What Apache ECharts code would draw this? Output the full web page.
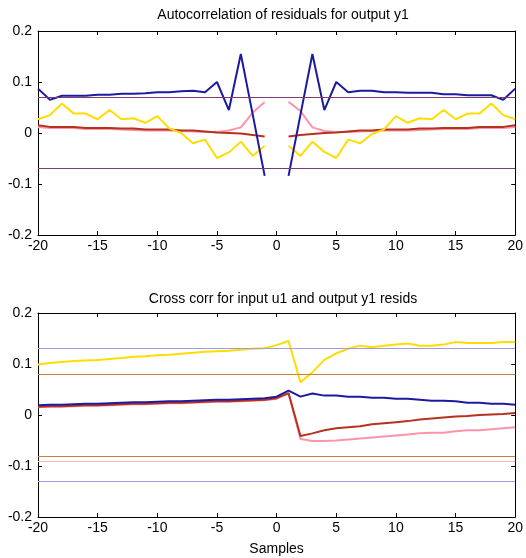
<!DOCTYPE html>
<html>
<head>
<meta charset="utf-8">
<script src="https://cdn.jsdelivr.net/npm/echarts@6/dist/echarts.min.js"></script>
<style>
  html, body { margin: 0; padding: 0; background: #fff; }
  #chart { width: 526px; height: 558px; }
</style>
</head>
<body>
<div id="chart"></div>
<script>
// lags shown on both plots
const lags = [-20,-19,-18,-17,-16,-15,-14,-13,-12,-11,-10,-9,-8,-7,-6,-5,-4,-3,-2,-1,0,
  1,2,3,4,5,6,7,8,9,10,11,12,13,14,15,16,17,18,19,20]
const xTicks = [-20, -15, -10, -5, 0, 5, 10, 15, 20]
const yTicks = [-0.2, -0.1, 0, 0.1, 0.2]

// autocorrelation of residuals (lag 0 left out)
const acBlue = [0.087,0.065,0.073,0.073,0.073,0.075,0.075,0.077,0.077,0.078,0.080,0.080,0.082,0.083,0.080,0.100,0.045,0.155,0.036,-0.084,null,
  -0.084,0.036,0.155,0.045,0.100,0.080,0.083,0.083,0.080,0.080,0.079,0.079,0.079,0.076,0.076,0.074,0.074,0.074,0.065,0.087]
const acYellow = [0.027,0.035,0.058,0.038,0.038,0.027,0.045,0.027,0.029,0.020,0.033,0.009,0.000,-0.020,-0.013,-0.049,-0.038,-0.017,-0.045,-0.025,null,
  -0.025,-0.045,-0.017,-0.037,-0.049,-0.013,-0.020,-0.002,0.007,0.033,0.020,0.029,0.027,0.045,0.027,0.038,0.038,0.058,0.035,0.027]
const acRed = [0.015,0.012,0.012,0.012,0.010,0.010,0.010,0.009,0.009,0.007,0.007,0.007,0.005,0.005,0.003,0.001,0.000,-0.001,-0.004,-0.007,null,
  -0.007,-0.004,-0.002,0.000,0.001,0.003,0.005,0.005,0.007,0.007,0.007,0.009,0.009,0.010,0.010,0.010,0.012,0.012,0.012,0.015]
const acPink = [0.012,0.010,0.010,0.010,0.008,0.008,0.008,0.007,0.006,0.005,0.005,0.005,0.004,0.003,0.002,0.002,0.005,0.011,0.040,0.061,null,
  0.061,0.043,0.011,0.004,0.002,0.002,0.003,0.004,0.005,0.005,0.005,0.006,0.007,0.008,0.008,0.008,0.010,0.010,0.010,0.012]
const acConf = [0.073, -0.073]

// cross correlation u1 / y1 residuals
const ccYellow = [0.099,0.102,0.104,0.106,0.107,0.108,0.110,0.112,0.114,0.115,0.117,0.118,0.120,0.122,0.124,0.125,0.126,0.128,0.130,0.131,0.137,
  0.145,0.064,0.084,0.108,0.121,0.130,0.136,0.133,0.136,0.138,0.140,0.136,0.136,0.138,0.143,0.141,0.141,0.141,0.143,0.143]
const ccBlue = [0.019,0.020,0.020,0.021,0.022,0.022,0.023,0.024,0.025,0.025,0.026,0.027,0.027,0.028,0.029,0.030,0.030,0.031,0.032,0.033,0.036,
  0.048,0.036,0.042,0.038,0.038,0.036,0.036,0.034,0.034,0.032,0.032,0.030,0.028,0.028,0.027,0.024,0.024,0.022,0.022,0.020]
const ccRed = [0.016,0.017,0.017,0.018,0.019,0.019,0.020,0.021,0.022,0.022,0.023,0.024,0.024,0.025,0.026,0.027,0.027,0.028,0.029,0.030,0.033,
  0.043,-0.041,-0.036,-0.030,-0.026,-0.024,-0.022,-0.018,-0.016,-0.014,-0.012,-0.009,-0.007,-0.005,-0.003,-0.002,0.000,0.001,0.002,0.004]
const ccPink = [0.015,0.016,0.016,0.017,0.018,0.018,0.019,0.020,0.021,0.021,0.022,0.023,0.023,0.024,0.025,0.026,0.026,0.027,0.028,0.029,0.032,
  0.042,-0.047,-0.051,-0.051,-0.050,-0.048,-0.046,-0.044,-0.042,-0.040,-0.038,-0.036,-0.035,-0.035,-0.032,-0.030,-0.030,-0.028,-0.026,-0.024]
const ccConfBlue = [0.131, -0.131]
const ccConfPink = [0.084, -0.085]
const ccConfOrange = [0.078, -0.079]

const font = 'Liberation Sans, Arial, sans-serif'
const pairs = arr => lags.map((k, i) => [k, arr[i]])

const hLines = (values, color) => ({
  silent: true,
  symbol: 'none',
  label: {show: false},
  lineStyle: {color, width: 1, type: 'solid', opacity: 1},
  data: values.map(v => ({yAxis: v}))
})

const line = (name, data, color, gridIdx, extra) => Object.assign({
  type: 'line',
  name,
  xAxisIndex: gridIdx * 2,
  yAxisIndex: gridIdx * 2,
  data: pairs(data),
  showSymbol: false,
  connectNulls: false,
  animation: false,
  lineStyle: {color, width: 2},
  itemStyle: {color}
}, extra || {})

const xAx = (gridIndex, pos) => ({
  type: 'value', gridIndex, position: pos,
  min: -20, max: 20, interval: 5,
  axisLine: {show: true, onZero: false, lineStyle: {color: '#000', width: 1}},
  axisTick: {show: true, inside: true, length: 4, lineStyle: {color: '#000'}},
  axisLabel: {show: pos === 'bottom', color: '#000', fontSize: 14, fontFamily: font, margin: 4,
    customValues: xTicks},
  splitLine: {show: false},
  name: gridIndex === 1 && pos === 'bottom' ? 'Samples' : '',
  nameLocation: 'middle', nameGap: 25,
  nameTextStyle: {color: '#000', fontSize: 14, fontFamily: font}
})

const yAx = (gridIndex, pos) => ({
  type: 'value', gridIndex, position: pos,
  min: -0.2, max: 0.2, interval: 0.1,
  axisLine: {show: true, onZero: false, lineStyle: {color: '#000', width: 1}},
  axisTick: {show: true, inside: true, length: 4, lineStyle: {color: '#000'}},
  axisLabel: {show: pos === 'left', color: '#000', fontSize: 14, fontFamily: font, margin: 6,
    customValues: yTicks,
    formatter: v => (Math.round(v * 10) / 10).toString()},
  splitLine: {show: false}
})

const chart = echarts.init(document.getElementById('chart'), null, {renderer: 'canvas'})
chart.setOption({
  animation: false,
  backgroundColor: '#fff',
  title: [
    {text: 'Autocorrelation of residuals for output y1', left: 278, top: 3, textAlign: 'center',
      textStyle: {fontSize: 14, fontWeight: 'normal', color: '#000', fontFamily: font}},
    {text: 'Cross corr for input u1 and output y1 resids', left: 278, top: 287, textAlign: 'center',
      textStyle: {fontSize: 14, fontWeight: 'normal', color: '#000', fontFamily: font}}
  ],
  grid: [
    {left: 38, right: 8, top: 31, height: 204},
    {left: 38, right: 8, top: 313, height: 204}
  ],
  xAxis: [xAx(0, 'bottom'), xAx(0, 'top'), xAx(1, 'bottom'), xAx(1, 'top')],
  yAxis: [yAx(0, 'left'), yAx(0, 'right'), yAx(1, 'left'), yAx(1, 'right')],
  series: [
    line('pink', acPink, '#ff94a8', 0, {markLine: hLines(acConf, '#7a3c78')}),
    line('red', acRed, '#b5321f', 0),
    line('yellow', acYellow, '#ffdd00', 0),
    line('blue', acBlue, '#1c1a9e', 0),

    line('pink', ccPink, '#ff94a8', 1, {markLine: hLines(ccConfPink, '#ffb4c4')}),
    line('red', ccRed, '#b5321f', 1, {markLine: hLines(ccConfOrange, '#cc8040')}),
    line('yellow', ccYellow, '#ffdd00', 1, {markLine: hLines(ccConfBlue, '#9c9ce8')}),
    line('blue', ccBlue, '#1c1a9e', 1)
  ]
})
</script>
</body>
</html>
